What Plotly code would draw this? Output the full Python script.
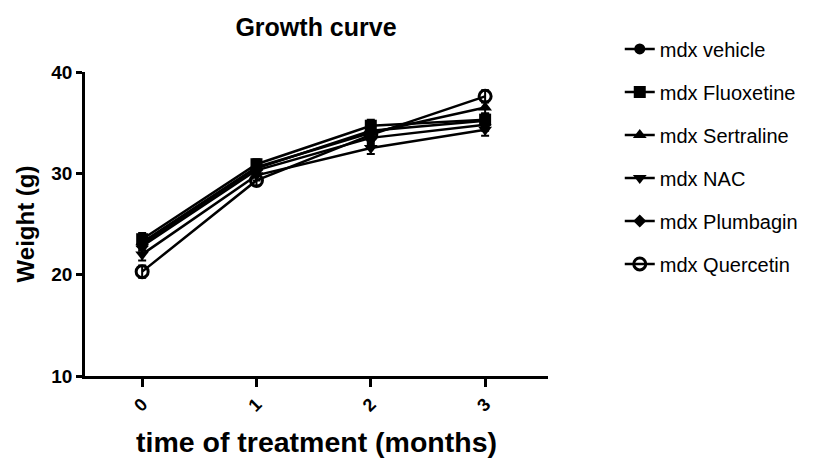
import plotly.graph_objects as go

months = [0, 1, 2, 3]
x_tick_labels = ["0", "1", "2", "3"]

series_names = ["mdx vehicle", "mdx Fluoxetine", "mdx Sertraline", "mdx NAC", "mdx Plumbagin", "mdx Quercetin"]
vehicle = [23.0, 30.5, 34.2, 35.2]
fluoxetine = [23.5, 30.9, 34.7, 35.3]
sertraline = [23.2, 30.6, 34.0, 36.5]
nac = [22.0, 29.8, 32.5, 34.3]
plumbagin = [22.8, 30.3, 33.5, 34.8]
quercetin = [20.3, 29.3, 33.8, 37.6]
errors = [0.6, 0.5, 0.6, 0.6]

values = [vehicle, fluoxetine, sertraline, nac, plumbagin, quercetin]
symbols = ["circle", "square", "triangle-up", "triangle-down", "diamond", "circle-open"]
sizes = [11, 12, 12, 12, 10, 12]

FONT = "Arial, Liberation Sans, sans-serif"

# page body has an 8px default margin, so the figure is sized to the remaining area
W, H = 825, 456

fig = go.Figure()
for i, (name, vals, sym, sz) in enumerate(zip(series_names, values, symbols, sizes)):
    fig.add_trace(go.Scatter(
        x=months, y=vals, name=name, mode="lines+markers",
        legendgroup=str(i),
        line=dict(color="black", width=2.5),
        marker=dict(symbol=sym, size=sz, color="black",
                    line=dict(color="black", width=3 if sym == "circle-open" else 0)),
        error_y=dict(type="data", array=errors, color="black", thickness=2, width=4),
    ))

fig.update_layout(
    width=W, height=H,
    margin=dict(l=77, r=285, t=64, b=88, autoexpand=False),
    paper_bgcolor="white", plot_bgcolor="white",
    font=dict(family=FONT, color="black"),
    title=dict(text="Growth curve", x=308 / W, xanchor="center",
               y=1 - 19 / H, yanchor="middle",
               font=dict(size=25, family=FONT, weight="bold")),
    showlegend=True,
    legend=dict(x=1.155, xanchor="left", y=1.14, yanchor="top",
                font=dict(size=20, family=FONT), tracegroupgap=14,
                bgcolor="rgba(0,0,0,0)", itemwidth=30, maxheight=420),
)
fig.update_xaxes(
    range=[-0.5, 3.55], tickmode="array", tickvals=months, ticktext=x_tick_labels,
    showline=True, linecolor="black", linewidth=2.5, ticks="outside", ticklen=8,
    tickwidth=2.5, tickcolor="black", tickangle=-45, showgrid=False, zeroline=False,
    automargin=False,
    tickfont=dict(size=18, family=FONT, weight="bold"),
    title=dict(text="time of treatment (months)",
               font=dict(size=28.5, family=FONT, weight="bold"), standoff=18),
)
fig.update_yaxes(
    range=[10, 40], tickvals=[10, 20, 30, 40],
    showline=True, linecolor="black", linewidth=2.5, ticks="outside", ticklen=6,
    tickwidth=2.5, tickcolor="black", showgrid=False, zeroline=False,
    automargin=False,
    tickfont=dict(size=19, family=FONT, weight="bold"), ticklabelstandoff=0,
    title=dict(text="Weight (g)", font=dict(size=24, family=FONT, weight="bold"), standoff=10),
)

fig.write_html("out.html")
